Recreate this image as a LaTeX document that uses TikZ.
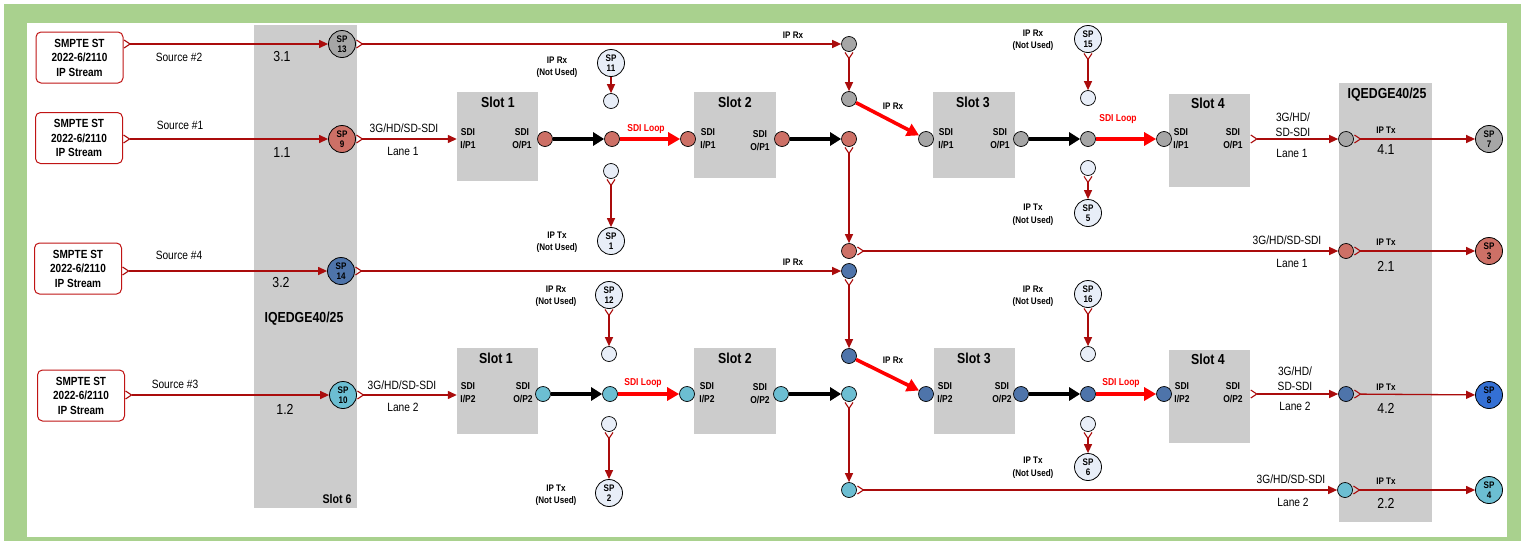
\documentclass[tikz,border=0pt]{standalone}
\usepackage{fontspec}
\setmainfont[FakeStretch=0.85]{Liberation Sans}
\usetikzlibrary{arrows.meta}
\definecolor{frame}{RGB}{169,209,142}
\definecolor{dred}{RGB}{170,12,12}
\definecolor{boxred}{RGB}{192,20,20}
\definecolor{slotg}{RGB}{204,204,204}
\definecolor{cgray}{RGB}{166,166,166}
\definecolor{csal}{RGB}{205,112,102}
\definecolor{cblue}{RGB}{78,116,170}
\definecolor{ccyan}{RGB}{108,190,210}
\definecolor{cbright}{RGB}{52,112,212}
\definecolor{clight}{RGB}{232,238,248}
\tikzset{
  srcbox/.style={draw=boxred, line width=1pt, rounded corners=5pt, minimum width=87pt, minimum height=51pt, align=center, inner sep=0pt, font=\bfseries\fontsize{11.8}{14.5}\selectfont},
  slotbox/.style={fill=slotg, inner sep=0pt, minimum width=81pt},
  spc/.style={circle, draw=black, line width=0.8pt, minimum size=27pt, inner sep=0pt, align=center, font=\bfseries\fontsize{9.5}{10.5}\selectfont},
  port/.style={circle, draw=black, line width=0.7pt, minimum size=15pt, inner sep=0pt},
  ln/.style={draw=dred, line width=1.3pt, -{Triangle[length=9pt,width=8pt]}},
  lnb/.style={draw=dred, line width=1.3pt, {Straight Barb[reversed,length=6pt,width=8pt,line width=1.1pt]}-{Triangle[length=9pt,width=8pt]}},
  blk/.style={draw=black, line width=3.6pt, -{Triangle[length=11pt,width=13pt]}},
  rdk/.style={draw=red, line width=3.6pt, -{Triangle[length=12pt,width=13pt]}},
  lbl/.style={inner sep=0pt, align=center, font=\fontsize{12}{15}\selectfont},
  num/.style={inner sep=0pt, font=\fontsize{14.5}{16}\selectfont},
  sml/.style={inner sep=0pt, align=center, font=\bfseries\fontsize{9.5}{12.5}\selectfont},
  plab/.style={inner sep=0pt, align=center, font=\bfseries\fontsize{10}{13}\selectfont},
  stitle/.style={inner sep=0pt, font=\bfseries\fontsize{14.5}{16}\selectfont},
  looplab/.style={inner sep=0pt, text=red, font=\bfseries\fontsize{10}{12}\selectfont},
}
\begin{document}
\begin{tikzpicture}[x=1pt,y=-1pt]
\useasboundingbox (0,0) rectangle (1528,541);
\fill[white] (0,0) rectangle (1528,541);
\fill[frame] (4,4) rectangle (1521,541);
\fill[white] (27,23) rectangle (1507,537);

% columns
\fill[slotg] (254,25) rectangle (357,508);
\fill[slotg] (1339,83) rectangle (1432,522);
\node[num] (n31) at (282,57) {3.1};
\node[num] (n11) at (282,153) {1.1};
\node[num] (n32) at (281,283) {3.2};
\node[num] (n12) at (285,409) {1.2};
\node[stitle] (iqL) at (304,319) {IQEDGE40/25};
\node[inner sep=0pt, font=\bfseries\fontsize{12.5}{14}\selectfont] (s6) at (337,499) {Slot 6};
\node[stitle] (iqR) at (1387,95) {IQEDGE40/25};

% source boxes
\node[srcbox] (src2) at (79.5,57.5) {SMPTE ST\\2022-6/2110\\IP Stream};
\node[srcbox] (src1) at (79,138) {SMPTE ST\\2022-6/2110\\IP Stream};
\node[srcbox] (src4) at (78,268.5) {SMPTE ST\\2022-6/2110\\IP Stream};
\node[srcbox] (src3) at (81,395.5) {SMPTE ST\\2022-6/2110\\IP Stream};
\node[lbl] (ls2) at (179,57) {Source \#2};
\node[lbl] (ls1) at (180,125) {Source \#1};
\node[lbl] (ls4) at (179,255) {Source \#4};
\node[lbl] (ls3) at (175,384) {Source \#3};

% slot boxes
\node[slotbox, minimum height=89pt] (slot1) at (497.5,136.5) {};
\node[slotbox, minimum width=82pt, minimum height=86pt] (slot2) at (735,135) {};
\node[slotbox, minimum width=82pt, minimum height=86pt] (slot3) at (974,135) {};
\node[slotbox, minimum height=93pt] (slot4) at (1209.5,140.5) {};
\node[slotbox, minimum height=86pt] (slot1b) at (497.5,391) {};
\node[slotbox, minimum width=82pt, minimum height=86pt] (slot2b) at (735,391) {};
\node[slotbox, minimum height=86pt] (slot3b) at (974.5,391) {};
\node[slotbox, minimum height=93pt] (slot4b) at (1209.5,396.5) {};
\node[stitle] (t1) at (498,102) {Slot 1};
\node[stitle] (t2) at (735,102) {Slot 2};
\node[stitle] (t3) at (973,102) {Slot 3};
\node[stitle] (t4) at (1208,103) {Slot 4};
\node[stitle] (t1b) at (496,358) {Slot 1};
\node[stitle] (t2b) at (735,358) {Slot 2};
\node[stitle] (t3b) at (974,358) {Slot 3};
\node[stitle] (t4b) at (1208,359) {Slot 4};
\node[plab] (a1) at (468,139) {SDI\\I/P1};
\node[plab] (a2) at (522,139) {SDI\\O/P1};
\node[plab] (a3) at (708,139) {SDI\\I/P1};
\node[plab] (a4) at (760,141) {SDI\\O/P1};
\node[plab] (a5) at (946,139) {SDI\\I/P1};
\node[plab] (a6) at (1000,139) {SDI\\O/P1};
\node[plab] (a7) at (1181,139) {SDI\\I/P1};
\node[plab] (a8) at (1233,139) {SDI\\O/P1};
\node[plab] (b1l) at (468,393) {SDI\\I/P2};
\node[plab] (b2l) at (523,393) {SDI\\O/P2};
\node[plab] (b3l) at (707,393) {SDI\\I/P2};
\node[plab] (b4l) at (760,394) {SDI\\O/P2};
\node[plab] (b5l) at (945,393) {SDI\\I/P2};
\node[plab] (b6l) at (1002,393) {SDI\\O/P2};
\node[plab] (b7l) at (1182,393) {SDI\\I/P2};
\node[plab] (b8l) at (1233,393) {SDI\\O/P2};

% SP circles
\node[spc, fill=cgray] (sp13) at (342,44) {SP\\13};
\node[spc, fill=csal] (sp9) at (342,139) {SP\\9};
\node[spc, fill=cblue] (sp14) at (341,271) {SP\\14};
\node[spc, fill=ccyan] (sp10) at (343,395) {SP\\10};
\node[spc, fill=clight] (sp11) at (611,63) {SP\\11};
\node[spc, fill=clight] (sp1) at (611,241) {SP\\1};
\node[spc, fill=clight] (sp15) at (1088,39) {SP\\15};
\node[spc, fill=clight] (sp5) at (1088,213) {SP\\5};
\node[spc, fill=clight] (sp12) at (609,295) {SP\\12};
\node[spc, fill=clight] (sp2) at (609,493) {SP\\2};
\node[spc, fill=clight] (sp16) at (1088,294) {SP\\16};
\node[spc, fill=clight] (sp6) at (1088,467) {SP\\6};
\node[spc, fill=cgray] (sp7) at (1489,139) {SP\\7};
\node[spc, fill=csal] (sp3) at (1489,251) {SP\\3};
\node[spc, fill=cbright] (sp8) at (1489,395) {SP\\8};
\node[spc, fill=ccyan] (sp4) at (1489,490) {SP\\4};

% small light circles
\node[port, fill=clight] (s11) at (611,101) {};
\node[port, fill=clight] (s1) at (611,171) {};
\node[port, fill=clight] (s15) at (1088,98) {};
\node[port, fill=clight] (s5) at (1088,168) {};
\node[port, fill=clight] (s12) at (609,354) {};
\node[port, fill=clight] (s2) at (609,424) {};
\node[port, fill=clight] (s16) at (1088,354) {};
\node[port, fill=clight] (s6c) at (1088,424) {};

% ports top
\node[port, fill=csal] (p1o) at (545,139) {};
\node[port, fill=csal] (j1) at (612,139) {};
\node[port, fill=csal] (p2i) at (688,139) {};
\node[port, fill=csal] (p2o) at (782,139) {};
\node[port, fill=csal] (j2) at (849,139) {};
\node[port, fill=csal] (r21) at (849,251) {};
\node[port, fill=csal] (t21) at (1346,251) {};
\node[port, fill=cgray] (g1) at (849,44) {};
\node[port, fill=cgray] (g2) at (849,99) {};
\node[port, fill=cgray] (p3i) at (926,139) {};
\node[port, fill=cgray] (p3o) at (1021,139) {};
\node[port, fill=cgray] (j3) at (1088,139) {};
\node[port, fill=cgray] (p4i) at (1164,139) {};
\node[port, fill=cgray] (t41) at (1346,139) {};
% ports bottom
\node[port, fill=ccyan] (q1o) at (543,394) {};
\node[port, fill=ccyan] (k1) at (610,394) {};
\node[port, fill=ccyan] (q2i) at (687,394) {};
\node[port, fill=ccyan] (q2o) at (781,394) {};
\node[port, fill=ccyan] (k2) at (849,394) {};
\node[port, fill=ccyan] (c22) at (849,490) {};
\node[port, fill=ccyan] (t22) at (1345,490) {};
\node[port, fill=cblue] (b1) at (849,271) {};
\node[port, fill=cblue] (b2) at (849,356) {};
\node[port, fill=cblue] (q3i) at (926,394) {};
\node[port, fill=cblue] (q3o) at (1021,394) {};
\node[port, fill=cblue] (k3) at (1088,394) {};
\node[port, fill=cblue] (q4i) at (1164,394) {};
\node[port, fill=cblue] (t42) at (1346,394) {};

% source connectors
\draw[lnb] (src2.east |- sp13) -- (sp13);
\draw[lnb] (src1.east |- sp9) -- (sp9);
\draw[lnb] (src4.east |- sp14) -- (sp14);
\draw[lnb] (src3.east |- sp10) -- (sp10);

% top lane
\draw[lnb] (sp13) -- (g1);
\draw[lnb] (g1) -- (g2);
\draw[rdk] (g2) -- (p3i);
\draw[lnb] (sp9) -- (slot1.west |- sp9);
\draw[blk] (p1o) -- (j1);
\draw[rdk] (j1) -- (p2i);
\draw[ln] (sp11) -- (s11);
\draw[lnb] (s1) -- (sp1);
\draw[blk] (p2o) -- (j2);
\draw[lnb] (j2) -- (r21);
\draw[lnb] (r21) -- (t21);
\draw[lnb] (t21) -- (sp3);
\draw[blk] (p3o) -- (j3);
\draw[rdk] (j3) -- (p4i);
\draw[lnb] (sp15) -- (s15);
\draw[lnb] (s5) -- (sp5);
\draw[lnb] (slot4.east |- t41) -- (t41);
\draw[lnb] (t41) -- (sp7);

% bottom lane
\draw[lnb] (sp14) -- (b1);
\draw[lnb] (b1) -- (b2);
\draw[rdk] (b2) -- (q3i);
\draw[lnb] (sp10) -- (slot1b.west |- sp10);
\draw[blk] (q1o) -- (k1);
\draw[rdk] (k1) -- (q2i);
\draw[lnb] (sp12) -- (s12);
\draw[lnb] (s2) -- (sp2);
\draw[blk] (q2o) -- (k2);
\draw[lnb] (k2) -- (c22);
\draw[lnb] (c22) -- (t22);
\draw[lnb] (t22) -- (sp4);
\draw[blk] (q3o) -- (k3);
\draw[rdk] (k3) -- (q4i);
\draw[lnb] (sp16) -- (s16);
\draw[lnb] (s6c) -- (sp6);
\draw[lnb] (slot4b.east |- t42) -- (t42);
\draw[lnb] (t42) -- (sp8);

% labels
\node[lbl] (l1a) at (404,128) {3G/HD/SD-SDI};
\node[lbl] (l1b) at (403,151) {Lane 1};
\node[lbl] (l2a) at (402,385) {3G/HD/SD-SDI};
\node[lbl] (l2b) at (403,407) {Lane 2};
\node[sml] (ipr1) at (793,35) {IP Rx};
\node[sml] (ipr2) at (793,262) {IP Rx};
\node[sml] (ipr3) at (893,106) {IP Rx};
\node[sml] (ipr4) at (893,360) {IP Rx};
\node[sml] (nu1) at (557,67) {IP Rx\\(Not Used)};
\node[sml] (nu2) at (1033,40) {IP Rx\\(Not Used)};
\node[sml] (nu3) at (556,296) {IP Rx\\(Not Used)};
\node[sml] (nu4) at (1033,296) {IP Rx\\(Not Used)};
\node[sml] (nt1) at (557,242) {IP Tx\\(Not Used)};
\node[sml] (nt2) at (1033,214.5) {IP Tx\\(Not Used)};
\node[sml] (nt3) at (556,495) {IP Tx\\(Not Used)};
\node[sml] (nt4) at (1033,467.5) {IP Tx\\(Not Used)};
\node[looplab] (lp1) at (646,129) {SDI Loop};
\node[looplab] (lp2) at (1118,119) {SDI Loop};
\node[looplab] (lp3) at (643,383) {SDI Loop};
\node[looplab] (lp4) at (1121,383) {SDI Loop};
\node[lbl] (r1a) at (1293,124.5) {3G/HD/\\SD-SDI};
\node[lbl] (r1b) at (1292,153) {Lane 1};
\node[lbl] (r2a) at (1287,240) {3G/HD/SD-SDI};
\node[lbl] (r2b) at (1292,263) {Lane 1};
\node[lbl] (r3a) at (1295,379) {3G/HD/\\SD-SDI};
\node[lbl] (r3b) at (1295,406) {Lane 2};
\node[lbl] (r4a) at (1291,479) {3G/HD/SD-SDI};
\node[lbl] (r4b) at (1293,502) {Lane 2};
\node[sml] (tx1) at (1386,130) {IP Tx};
\node[num] (n41) at (1386,150) {4.1};
\node[sml] (tx2) at (1386,242) {IP Tx};
\node[num] (n21) at (1386,266) {2.1};
\node[sml] (tx3) at (1386,387) {IP Tx};
\node[num] (n42) at (1386,408) {4.2};
\node[sml] (tx4) at (1386,481) {IP Tx};
\node[num] (n22) at (1386,503) {2.2};
\end{tikzpicture}
\end{document}
